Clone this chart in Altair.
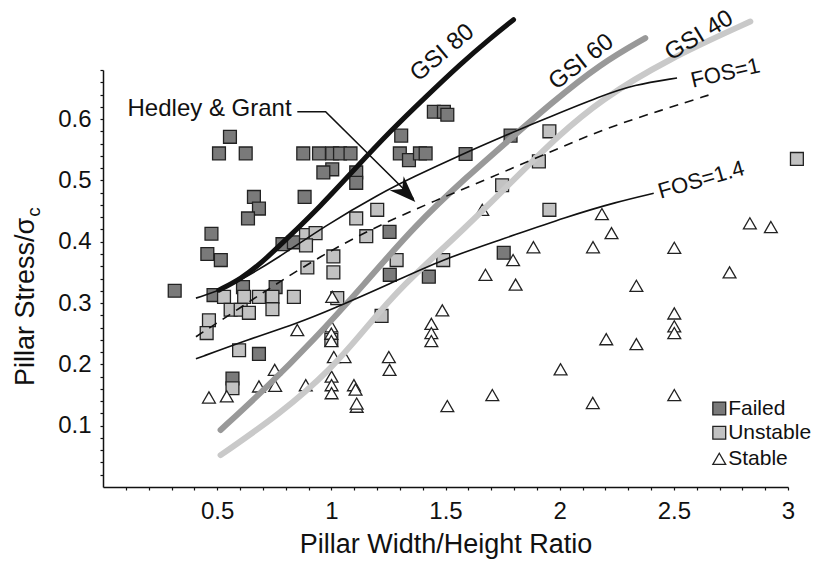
import altair as alt
import pandas as pd

# ---------------- data ----------------
failed_x = [0.314, 0.556, 0.508, 0.625, 0.877, 0.946, 1.004, 1.038, 1.084, 1.004, 0.965, 1.109, 1.109,
            1.306, 1.300, 1.340, 1.388, 1.413, 1.449, 1.493, 1.508, 1.588, 1.785, 0.661, 0.683, 0.635,
            0.883, 0.475, 0.457, 0.516, 0.786, 0.836, 1.255, 1.256, 1.427, 1.755, 0.484, 0.613, 0.756,
            0.683, 0.567]
failed_y = [0.320, 0.571, 0.544, 0.544, 0.544, 0.544, 0.544, 0.544, 0.544, 0.518, 0.513, 0.513, 0.496,
            0.573, 0.544, 0.533, 0.544, 0.544, 0.612, 0.612, 0.607, 0.543, 0.573, 0.473, 0.454, 0.438,
            0.473, 0.413, 0.380, 0.370, 0.396, 0.399, 0.416, 0.346, 0.343, 0.382, 0.313, 0.326, 0.326,
            0.217, 0.177]

unstable_x = [0.889, 0.931, 0.889, 1.109, 1.201, 1.153, 1.009, 0.895, 1.009, 1.286, 1.490, 1.220,
              1.955, 1.909, 1.748, 1.955, 3.039, 0.530, 0.618, 0.683, 0.742, 0.836, 0.559, 0.603,
              0.639, 0.742, 0.464, 0.454, 0.596, 0.567, 1.026, 1.000]
unstable_y = [0.411, 0.414, 0.394, 0.438, 0.452, 0.409, 0.376, 0.358, 0.350, 0.370, 0.370, 0.279,
              0.580, 0.531, 0.492, 0.452, 0.535, 0.310, 0.310, 0.310, 0.310, 0.310, 0.289, 0.289,
              0.284, 0.290, 0.272, 0.251, 0.223, 0.161, 0.308, 0.240]

stable_x = [0.464, 0.542, 0.752, 0.683, 0.754, 0.888, 0.851, 1.004, 1.000, 1.000, 1.000, 1.011, 1.058,
            1.001, 1.001, 1.001, 1.099, 1.106, 1.111, 1.111, 1.252, 1.255, 1.486, 1.438, 1.438, 1.438,
            1.508, 1.705, 1.661, 1.675, 1.796, 1.807, 1.885, 2.004, 2.146, 2.145, 2.185, 2.227, 2.204,
            2.336, 2.336, 2.502, 2.502, 2.502, 2.502, 2.502, 2.744, 2.833, 2.925]
stable_y = [0.146, 0.148, 0.191, 0.164, 0.165, 0.166, 0.256, 0.310, 0.262, 0.250, 0.238, 0.212, 0.212,
            0.180, 0.166, 0.153, 0.166, 0.159, 0.131, 0.136, 0.212, 0.191, 0.288, 0.266, 0.251, 0.238,
            0.132, 0.150, 0.452, 0.346, 0.370, 0.330, 0.391, 0.192, 0.391, 0.137, 0.445, 0.414, 0.241,
            0.328, 0.233, 0.390, 0.283, 0.262, 0.251, 0.150, 0.350, 0.430, 0.424]

gsi80_x = [0.507, 0.603, 0.699, 0.800, 0.953, 1.106, 1.260, 1.413, 1.566, 1.697, 1.798]
gsi80_y = [0.321, 0.339, 0.367, 0.403, 0.458, 0.520, 0.581, 0.636, 0.690, 0.732, 0.762]

gsi60_x = [0.515, 0.705, 0.924, 1.143, 1.362, 1.600, 1.785, 1.960, 2.178, 2.375]
gsi60_y = [0.093, 0.158, 0.240, 0.330, 0.425, 0.508, 0.568, 0.625, 0.690, 0.732]

gsi40_x = [0.515, 0.778, 0.997, 1.158, 1.300, 1.595, 1.828, 1.989, 2.178, 2.470, 2.835]
gsi40_y = [0.052, 0.120, 0.191, 0.262, 0.325, 0.425, 0.512, 0.571, 0.631, 0.697, 0.759]

fos1_x = [0.407, 0.545, 0.778, 0.968, 1.216, 1.362, 1.551, 1.785, 1.960, 2.178, 2.324, 2.514]
fos1_y = [0.308, 0.324, 0.376, 0.425, 0.479, 0.506, 0.539, 0.577, 0.604, 0.637, 0.656, 0.667]

fos14_x = [0.407, 0.632, 0.851, 1.004, 1.260, 1.486, 1.741, 2.033, 2.252, 2.412]
fos14_y = [0.209, 0.240, 0.267, 0.290, 0.332, 0.371, 0.403, 0.441, 0.465, 0.479]

hg_x = [0.407, 0.600, 0.778, 0.997, 1.216, 1.449, 1.700, 1.950, 2.200, 2.450, 2.660]
hg_y = [0.245, 0.292, 0.336, 0.386, 0.428, 0.466, 0.505, 0.545, 0.585, 0.615, 0.640]

leader_x = [0.851, 0.975, 1.360]
leader_y = [0.612, 0.612, 0.470]
arrow_x = [1.327]
arrow_y = [0.480]

labels_text = ["GSI 80", "GSI 60", "GSI 40", "FOS=1", "FOS=1.4"]
labels_x = [1.486, 2.095, 2.611, 2.726, 2.620]
labels_y = [0.708, 0.693, 0.736, 0.675, 0.501]
labels_angle = [320, 322, 329, 347, 344]

types = ["Failed", "Unstable", "Stable"]
legend_x = [2.699, 2.699, 2.699]
legend_y = [0.1280, 0.0885, 0.0460]
legend_text_x = [2.738, 2.738, 2.738]

FONT = "Liberation Sans"

# ---------------- scales / axes ----------------
x_ticks = [round(0.1 * i, 1) for i in range(1, 31)]
y_ticks = [round(0.02 * i, 2) for i in range(1, 35)]

X = alt.X("x:Q", scale=alt.Scale(domain=[0, 3], nice=False, zero=False),
          axis=alt.Axis(title="Pillar Width/Height Ratio", values=x_ticks,
                        labelExpr="abs(datum.value*2 - round(datum.value*2)) < 0.001 ? format(datum.value, '.1~f') : ''",
                        labelFlush=False, labelOverlap=False, labelPadding=9,
                        titlePadding=8, titleFontSize=27))
Y = alt.Y("y:Q", scale=alt.Scale(domain=[0, 0.68], nice=False, zero=False),
          axis=alt.Axis(title=None, values=y_ticks,
                        labelExpr="abs(datum.value*10 - round(datum.value*10)) < 0.001 ? format(datum.value, '.1f') : ''",
                        labelFlush=False, labelOverlap=False, labelPadding=9))

fill_scale = alt.Scale(domain=types, range=["#7a7a7a", "#c2c2c2", "#ffffff"])
shape_scale = alt.Scale(domain=types, range=["square", "square", "triangle-up"])
size_scale = alt.Scale(domain=types, range=[165, 165, 85])

pts = pd.DataFrame({
    "x": failed_x + unstable_x + stable_x,
    "y": failed_y + unstable_y + stable_y,
    "type": ["Failed"] * len(failed_x) + ["Unstable"] * len(unstable_x) + ["Stable"] * len(stable_x),
    "o": [0] * len(failed_x) + [1] * len(unstable_x) + [2] * len(stable_x),
})

points = alt.Chart(pts).mark_point(filled=True, stroke="#222", strokeWidth=1.3, opacity=1).encode(
    x=X, y=Y,
    shape=alt.Shape("type:N", scale=shape_scale, legend=None),
    fill=alt.Fill("type:N", scale=fill_scale, legend=None),
    size=alt.Size("type:N", scale=size_scale, legend=None),
    order=alt.Order("o:Q"),
)

# hand-built legend (bottom right), drawn through the same scales
leg_df = pd.DataFrame({"x": legend_x, "y": legend_y, "type": types})
leg_sym = alt.Chart(leg_df).mark_point(filled=True, stroke="#222", strokeWidth=1.3, opacity=1).encode(
    x=X, y=Y,
    shape=alt.Shape("type:N", scale=shape_scale, legend=None),
    fill=alt.Fill("type:N", scale=fill_scale, legend=None),
    size=alt.Size("type:N", scale=size_scale, legend=None),
)
leg_txt_df = pd.DataFrame({"x": legend_text_x, "y": legend_y, "type": types})
leg_txt = alt.Chart(leg_txt_df).mark_text(align="left", baseline="middle", fontSize=21, font=FONT,
                                          color="#111").encode(x=X, y=Y, text="type:N")


def curve(xs, ys, **kw):
    df = pd.DataFrame({"x": xs, "y": ys, "i": list(range(len(xs)))})
    return alt.Chart(df).mark_line(interpolate="basis", **kw).encode(x=X, y=Y, order="i:Q")


gsi40 = curve(gsi40_x, gsi40_y, color="#c9c9c9", strokeWidth=6, strokeCap="round")
gsi60 = curve(gsi60_x, gsi60_y, color="#999999", strokeWidth=6, strokeCap="round")
gsi80 = curve(gsi80_x, gsi80_y, color="#111111", strokeWidth=5, strokeCap="round")
fos1 = curve(fos1_x, fos1_y, color="#111111", strokeWidth=1.6)
fos14 = curve(fos14_x, fos14_y, color="#111111", strokeWidth=1.6)
hg = curve(hg_x, hg_y, color="#111111", strokeWidth=1.6, strokeDash=[9, 7])

leader_df = pd.DataFrame({"x": leader_x, "y": leader_y, "i": [0, 1, 2]})
leader = alt.Chart(leader_df).mark_line(color="#111111", strokeWidth=1.6).encode(x=X, y=Y, order="i:Q")
arrow = alt.Chart(pd.DataFrame({"x": arrow_x, "y": arrow_y})).mark_point(
    shape="M 1 0 L -1 -0.75 L -0.4 0 L -1 0.75 Z", angle=45, size=700, filled=True,
    color="#111111", opacity=1).encode(x=X, y=Y)

hg_text = alt.Chart(pd.DataFrame({"x": [0.826], "y": [0.617], "t": ["Hedley & Grant"]})).mark_text(
    align="right", baseline="middle", fontSize=24, font=FONT, color="#111").encode(x=X, y=Y, text="t:N")

lab_layers = []
for t, lx, ly, la in zip(labels_text, labels_x, labels_y, labels_angle):
    fs = 22 if t.startswith("FOS") else 24
    lab_layers.append(
        alt.Chart(pd.DataFrame({"x": [lx], "y": [ly], "t": [t]})).mark_text(
            align="center", baseline="middle", angle=la, fontSize=fs, font=FONT, color="#111"
        ).encode(x=X, y=Y, text="t:N")
    )

ytitle = alt.Chart(pd.DataFrame({"t": ["Pillar Stress/σ"]})).mark_text(
    align="center", baseline="middle", angle=270, fontSize=27, font=FONT, color="#111"
).encode(x=alt.value(-77), y=alt.value(232), text="t:N")
ysub = alt.Chart(pd.DataFrame({"t": ["c"]})).mark_text(
    align="center", baseline="middle", angle=270, fontSize=19, font=FONT, color="#111"
).encode(x=alt.value(-69), y=alt.value(142), text="t:N")

chart = alt.layer(
    points, gsi40, gsi60, gsi80, fos1, fos14, hg, leader, arrow, hg_text, *lab_layers,
    leg_sym, leg_txt, ytitle, ysub
).properties(
    width=685, height=417,
    padding={"left": 103, "top": 70, "right": 31, "bottom": 74},
    autosize=alt.AutoSizeParams(type="none"),
).configure(font=FONT).configure_view(stroke=None).configure_axis(
    grid=False, domainColor="#111", domainWidth=1.5, tickColor="#111", tickSize=3, tickWidth=1.2,
    labelColor="#111", labelFontSize=24, labelFont=FONT, titleFont=FONT, titleColor="#111",
    titleFontWeight="normal",
)

chart.save("out.html", embed_options={"renderer": "svg", "actions": False})
